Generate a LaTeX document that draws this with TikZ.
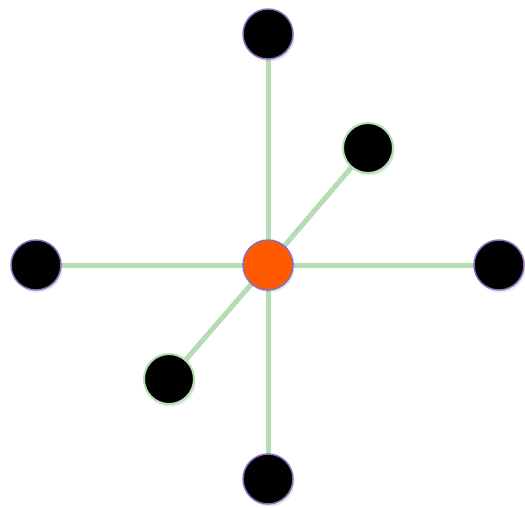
\documentclass[tikz,border=0pt]{standalone}
\usetikzlibrary{shadows}
\definecolor{spoke}{RGB}{182,220,182}
\definecolor{rimpurple}{RGB}{140,110,190}
\definecolor{rimgreen}{RGB}{180,222,180}
\definecolor{hub}{RGB}{255,90,0}
\begin{document}
\begin{tikzpicture}[x=1pt,y=-1pt,
  dot/.style={circle,fill=black,minimum size=50pt,inner sep=0pt,line width=1.5pt,
    drop shadow={opacity=0.18,shadow xshift=1.5pt,shadow yshift=-2.5pt}},
  purpledot/.style={dot,draw=rimpurple},
  greendot/.style={dot,draw=rimgreen,line width=2pt},
  hubdot/.style={dot,fill=hub,draw=rimpurple},
  spokeline/.style={draw=spoke,line width=5pt}]
\useasboundingbox (0,0) rectangle (525,507);
\coordinate (c) at (268,265);
\coordinate (pt) at (268,34);
\coordinate (pb) at (268,479);
\coordinate (pl) at (36,265);
\coordinate (pr) at (499,265);
\coordinate (pur) at (368,148);
\coordinate (pll) at (169,379);
\foreach \p in {pt,pb,pl,pr,pur,pll} \draw[spokeline] (c) -- (\p);
\node[purpledot] (nt) at (pt) {};
\node[purpledot] (nb) at (pb) {};
\node[purpledot] (nl) at (pl) {};
\node[purpledot] (nr) at (pr) {};
\node[greendot] (nur) at (pur) {};
\node[greendot] (nll) at (pll) {};
\node[hubdot] (hub) at (c) {};
\end{tikzpicture}
\end{document}
